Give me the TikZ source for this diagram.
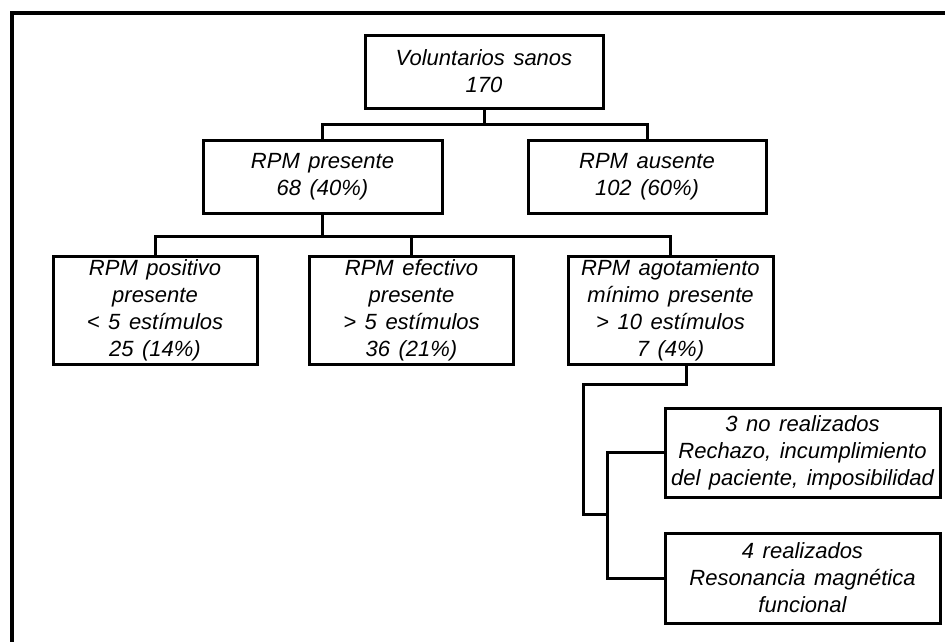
\documentclass[tikz,border=0pt]{standalone}
\usepackage{fontspec}
\setmainfont[WordSpace=1.4]{Liberation Sans}
\begin{document}
\begin{tikzpicture}[x=1pt,y=-1pt,
  box/.style={draw=black,line width=3pt,align=center,inner sep=0pt,
    font=\itshape\fontsize{22}{27}\selectfont},
  conn/.style={draw=black,line width=3pt},
  frame/.style={draw=black,line width=3.5pt}]
\useasboundingbox (0,0) rectangle (945,641);
\draw[frame] (12,660) -- (12,13) -- (960,13);
% nodes
\node[box,minimum width=238pt,minimum height=73pt] (b0) at (484,71.5) {Voluntarios sanos\\170};
\node[box,minimum width=239pt,minimum height=73pt] (b1) at (322.5,176.5) {RPM presente\\68 (40\%)};
\node[box,minimum width=238pt,minimum height=73pt] (b2) at (647,176.5) {RPM ausente\\102 (60\%)};
\node[box,minimum width=204pt,minimum height=108pt] (b3) at (155,310) {RPM positivo\\presente\\< 5 estímulos\\25 (14\%)};
\node[box,minimum width=204pt,minimum height=108pt] (b4) at (411.5,310) {RPM efectivo\\presente\\> 5 estímulos\\36 (21\%)};
\node[box,minimum width=205pt,minimum height=108pt] (b5) at (670.5,310) {RPM agotamiento\\mínimo presente\\> 10 estímulos\\7 (4\%)};
\node[box,minimum width=275pt,minimum height=89pt] (b6) at (802.5,452.5) {3 no realizados\\Rechazo, incumplimiento\\del paciente, imposibilidad};
\node[box,minimum width=275pt,minimum height=90pt] (b7) at (802.5,578) {4 realizados\\Resonancia magnética\\funcional};
% connectors
\draw[conn] (b0.south) -- (b0.south |- 0,124);
\draw[conn] (b1.north) |- (b2.north |- 0,124) -- (b2.north);
\draw[conn] (b1.south) -- (b1.south |- 0,236);
\draw[conn] (b3.north) |- (b5.north |- 0,236) -- (b5.north);
\draw[conn] (b4.north) -- (b4.north |- 0,236);
\coordinate (k1) at (583,384);
\coordinate (k2) at (583,514);
\coordinate (k3) at (607,514);
\draw[conn] ([xshift=15.5pt]b5.south) |- (k1) -- (k2) -- (k3);
\draw[conn] (b6.west) -- (b6.west -| k3) -- (b7.west -| k3) -- (b7.west);
\end{tikzpicture}
\end{document}
